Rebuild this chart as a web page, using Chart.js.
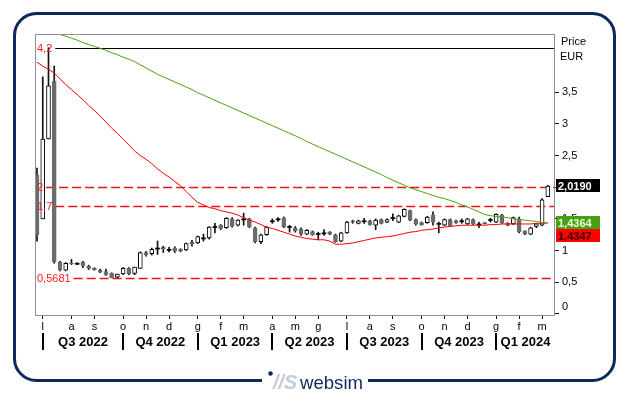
<!DOCTYPE html>
<html><head><meta charset="utf-8">
<script src="https://cdn.jsdelivr.net/npm/chart.js@4.4.0/dist/chart.umd.min.js"></script>
<style>html,body{margin:0;padding:0;background:#fff;}canvas{display:block;}</style>
</head><body>
<canvas id="c" width="629" height="395"></canvas>
<script>
// ---------- DATA ----------
const firstWeek = '2022-06-27';
const openP  = [2.19,1.50,2.76,3.67,0.82,0.69,0.80,0.80,0.82,0.75,
                0.72,0.69,0.67,0.64,0.58,0.63,0.72,0.64,0.72,0.97,
                0.95,1.04,1.03,1.02,1.04,1.02,1.01,1.11,1.12,1.20,
                1.20,1.38,1.40,1.36,1.50,1.40,1.50,1.50,1.36,1.14,
                1.25,1.47,1.50,1.51,1.38,1.36,1.34,1.26,1.30,1.27,
                1.28,1.29,1.25,1.15,1.28,1.47,1.43,1.47,1.47,1.40,
                1.49,1.45,1.52,1.45,1.54,1.63,1.49,1.44,1.44,1.56,
                1.43,1.40,1.49,1.47,1.47,1.42,1.49,1.42,1.44,1.49,
                1.45,1.56,1.43,1.42,1.50,1.31,1.26,1.38,1.40,1.85];
const highP  = [2.30,3.74,4.20,3.91,0.83,0.81,0.86,0.81,0.83,0.77,
                0.73,0.71,0.71,0.65,0.63,0.73,0.73,0.74,0.98,0.99,
                1.04,1.15,1.07,1.05,1.06,1.03,1.12,1.16,1.23,1.26,
                1.38,1.43,1.41,1.52,1.52,1.49,1.59,1.51,1.37,1.26,
                1.38,1.50,1.52,1.53,1.40,1.38,1.36,1.33,1.31,1.29,
                1.33,1.30,1.26,1.29,1.46,1.48,1.48,1.51,1.48,1.50,
                1.50,1.50,1.58,1.56,1.66,1.64,1.50,1.45,1.54,1.61,
                1.45,1.50,1.50,1.48,1.50,1.51,1.50,1.45,1.44,1.51,
                1.58,1.57,1.44,1.53,1.53,1.31,1.37,1.43,1.82,2.03];
const lowP   = [1.15,1.50,2.76,0.80,0.68,0.68,0.78,0.78,0.73,0.70,
                0.69,0.65,0.61,0.57,0.57,0.62,0.62,0.62,0.72,0.91,
                0.93,0.94,0.97,0.98,0.97,0.98,1.00,1.07,1.11,1.15,
                1.18,1.28,1.33,1.35,1.37,1.39,1.40,1.36,1.12,1.11,
                1.24,1.43,1.46,1.36,1.29,1.29,1.24,1.25,1.24,1.17,
                1.24,1.25,1.13,1.14,1.27,1.43,1.42,1.43,1.40,1.33,
                1.42,1.44,1.47,1.44,1.53,1.47,1.40,1.40,1.43,1.40,
                1.28,1.39,1.38,1.43,1.43,1.41,1.41,1.36,1.42,1.45,
                1.44,1.43,1.39,1.41,1.28,1.25,1.25,1.36,1.39,1.85];
const closeP = [1.25,2.76,3.60,0.82,0.70,0.80,0.79,0.80,0.76,0.72,
                0.70,0.66,0.62,0.57,0.63,0.72,0.63,0.74,0.97,0.93,
                1.02,1.04,1.04,1.02,0.99,0.99,1.11,1.12,1.22,1.20,
                1.37,1.38,1.35,1.51,1.38,1.48,1.50,1.37,1.14,1.25,
                1.37,1.47,1.50,1.37,1.38,1.31,1.26,1.32,1.25,1.27,
                1.28,1.26,1.14,1.28,1.45,1.45,1.47,1.47,1.41,1.48,
                1.43,1.49,1.52,1.55,1.65,1.48,1.42,1.41,1.53,1.45,
                1.43,1.49,1.39,1.44,1.47,1.50,1.42,1.42,1.42,1.49,
                1.57,1.44,1.40,1.52,1.30,1.26,1.36,1.42,1.80,2.019];
const maShort = [3.97,3.91,3.86,3.80,3.71,3.62,3.54,3.46,3.38,3.29,
                 3.21,3.12,3.03,2.93,2.85,2.76,2.67,2.57,2.50,2.44,
                 2.37,2.29,2.22,2.16,2.09,2.02,1.93,1.84,1.76,1.72,
                 1.68,1.66,1.63,1.61,1.59,1.56,1.52,1.48,1.45,1.41,
                 1.37,1.35,1.32,1.29,1.26,1.23,1.21,1.19,1.18,1.17,
                 1.17,1.15,1.10,1.10,1.11,1.12,1.14,1.16,1.18,1.20,
                 1.21,1.22,1.23,1.25,1.27,1.29,1.30,1.32,1.33,1.34,
                 1.36,1.37,1.38,1.39,1.40,1.40,1.40,1.40,1.40,1.41,
                 1.41,1.42,1.42,1.42,1.42,1.42,1.42,1.43,1.43,1.4347];
const maLong  = [4.55,4.52,4.49,4.45,4.41,4.38,4.35,4.32,4.28,4.25,
                 4.22,4.19,4.16,4.12,4.09,4.05,4.02,3.98,3.93,3.88,
                 3.83,3.78,3.74,3.70,3.66,3.62,3.58,3.54,3.49,3.45,
                 3.41,3.37,3.33,3.29,3.25,3.21,3.17,3.13,3.09,3.05,
                 3.01,2.97,2.93,2.89,2.85,2.81,2.77,2.72,2.68,2.64,
                 2.60,2.56,2.52,2.48,2.44,2.40,2.36,2.32,2.28,2.24,
                 2.20,2.15,2.11,2.07,2.03,1.99,1.96,1.93,1.90,1.87,
                 1.84,1.82,1.79,1.76,1.72,1.69,1.65,1.61,1.57,1.55,
                 1.54,1.53,1.52,1.50,1.49,1.48,1.47,1.46,1.44,1.4364];
const monthTickIndex = [1,6,10,15,19,23,28,32,36,41,45,49,54,58,62,67,71,75,80,84,88];
const monthLetters   = ['l','a','s','o','n','d','g','f','m','a','m','g','l','a','s','o','n','d','g','f','m'];
const quarterStartIndex = [1,15,28,41,54,67,80];
const quarterLabels = ['Q3 2022','Q4 2022','Q1 2023','Q2 2023','Q3 2023','Q4 2023','Q1 2024'];
const yTickValues = [0,0.5,1,1.5,2,2.5,3,3.5];
const levelValues = [4.2, 2, 1.7, 0.5681];
const levelLabels = ['4,2','2','1,7','0,5681'];
const lastPriceLabel = '2,0190';
const maLongLabel = '1,4364';
const maShortLabel = '1,4347';

// categories (weekly)
const weeks = [];
{ const d0 = new Date(firstWeek + 'T00:00:00Z');
  for (let i = 0; i < closeP.length; i++) { const d = new Date(d0.getTime() + i*7*864e5); weeks.push(d.toISOString().slice(0,10)); } }

const FONT = "'Liberation Sans', Arial, sans-serif";
Chart.defaults.font.family = FONT;
Chart.defaults.font.size = 11;
Chart.defaults.color = '#000';

const GRAY = '#6b6b6b';
const isCross = i => Math.abs(openP[i]-closeP[i]) <= 0.01;
const isUp = i => closeP[i] > openP[i];

const wickData = weeks.map((w,i)=>({x:i, y:[lowP[i], highP[i]]}));
const bodyData = weeks.map((w,i)=>({x:i, y:[Math.min(openP[i],closeP[i]), Math.max(openP[i],closeP[i])]}));

function fitFont(ctx, text, width, style) {
  ctx.font = style + "20px " + FONT;
  const w = ctx.measureText(text).width;
  return style + (20 * width / w).toFixed(1) + "px " + FONT;
}

const decoPlugin = {
  id:'deco',
  beforeDraw(chart){
    const ctx = chart.ctx;
    ctx.save();
    ctx.fillStyle = '#fff'; ctx.fillRect(0,0,chart.width,chart.height);
    // frame
    const x0=14.5,y0=13.5,x1=614.5,y1=380.5,r=22;
    ctx.strokeStyle = '#0e2a5a'; ctx.lineWidth = 3;
    ctx.beginPath();
    ctx.moveTo(x0+r,y0); ctx.lineTo(x1-r,y0); ctx.arcTo(x1,y0,x1,y0+r,r);
    ctx.lineTo(x1,y1-r); ctx.arcTo(x1,y1,x1-r,y1,r);
    ctx.lineTo(x0+r,y1); ctx.arcTo(x0,y1,x0,y1-r,r);
    ctx.lineTo(x0,y0+r); ctx.arcTo(x0,y0,x0+r,y0,r);
    ctx.closePath(); ctx.stroke();
    // logo gap
    ctx.fillStyle = '#fff'; ctx.fillRect(262,374,106,14);
    ctx.fillStyle = '#0e2a5a';
    ctx.beginPath(); ctx.arc(270.5,373.5,2.3,0,Math.PI*2); ctx.fill();
    ctx.textBaseline='alphabetic'; ctx.textAlign='left';
    ctx.fillStyle = '#c3ccd8';
    ctx.font = fitFont(ctx, '//S', 24, 'italic bold ');
    ctx.fillText('//S', 273, 389);
    ctx.fillStyle = '#0e2a5a';
    ctx.font = fitFont(ctx, 'websim', 63, '');
    ctx.fillText('websim', 300, 389);
    ctx.restore();
  },
  beforeDatasetsDraw(chart){
    const ctx = chart.ctx, y = chart.scales.y, a = chart.chartArea;
    ctx.save();
    ctx.font = "11px " + FONT;
    levelValues.forEach((v,k)=>{
      const py = Math.round(y.getPixelForValue(v)) + 0.5;
      const sx = a.left + 2 + ctx.measureText(levelLabels[k]).width + 3;
      ctx.beginPath(); ctx.moveTo(sx, py); ctx.lineTo(a.right, py);
      if (k === 0) { ctx.setLineDash([]); ctx.strokeStyle='#000'; ctx.lineWidth=1; }
      else { ctx.setLineDash([9,4]); ctx.strokeStyle='#ee1111'; ctx.lineWidth=1.4; }
      ctx.stroke();
    });
    ctx.restore();
  },
  afterDatasetsDraw(chart){
    const ctx = chart.ctx, y = chart.scales.y, a = chart.chartArea;
    ctx.save();
    ctx.font = "11px " + FONT; ctx.textBaseline='middle'; ctx.textAlign='left';
    ctx.fillStyle = '#ff1a1a';
    levelValues.forEach((v,k)=>{
      const py = Math.round(y.getPixelForValue(v)) + 0.5;
      ctx.fillText(levelLabels[k], a.left+2, py);
    });
    ctx.restore();
  },
  afterDraw(chart){
    const ctx = chart.ctx, x = chart.scales.x, y = chart.scales.y, a = chart.chartArea;
    ctx.save();
    // plot frame
    ctx.strokeStyle = '#8e8e9c'; ctx.lineWidth = 1;
    ctx.strokeRect(a.left+0.5, a.top+0.5, a.right-a.left-1, a.bottom-a.top);
    // quarter separators and labels
    ctx.fillStyle = '#000'; ctx.strokeStyle = '#000'; ctx.lineWidth = 2;
    ctx.font = "bold 13px " + FONT; ctx.textAlign='center'; ctx.textBaseline='middle';
    quarterStartIndex.forEach((qi,k)=>{
      const px = Math.round(x.getPixelForValue(qi));
      ctx.beginPath(); ctx.moveTo(px, 333); ctx.lineTo(px, 350); ctx.stroke();
      const nx = k < quarterStartIndex.length-1 ? x.getPixelForValue(quarterStartIndex[k+1]) : a.right;
      ctx.fillText(quarterLabels[k], (px+nx)/2, 342);
    });
    // axis title
    ctx.font = "11px " + FONT; ctx.textAlign='left';
    ctx.fillText('Price', 561, 42);
    ctx.fillText('EUR', 560, 57);
    // value boxes
    const bx = 556, bw = 44, bh = 13;
    const box = (cy, bg, fg, txt) => {
      ctx.fillStyle = bg; ctx.fillRect(bx, Math.round(cy - bh/2), bw, bh);
      ctx.fillStyle = fg; ctx.font = "bold 11px " + FONT; ctx.textAlign='left'; ctx.textBaseline='middle';
      ctx.fillText(txt, bx+2, Math.round(cy)+0.5);
    };
    const yLast = y.getPixelForValue(closeP[closeP.length-1]);
    const yG = y.getPixelForValue(maLong[maLong.length-1]);
    box(yLast, '#000', '#fff', lastPriceLabel);
    box(yG, '#47a010', '#eefde0', maLongLabel);
    box(yG + bh, '#ff0000', '#3a0000', maShortLabel);
    ctx.restore();
  }
};

new Chart(document.getElementById('c'), {
  type: 'bar',
  data: {
    labels: weeks,
    datasets: [
      { type:'line', label:'MA long', data: weeks.map((w,i)=>({x:i,y:maLong[i]})), borderColor:'#4a9f12', borderWidth:1, pointRadius:0, tension:0, fill:false, order:0 },
      { type:'line', label:'MA short', data: weeks.map((w,i)=>({x:i,y:maShort[i]})), borderColor:'#ff0000', borderWidth:1, pointRadius:0, tension:0, fill:false, order:1 },
      { label:'body', data: bodyData, grouped:false, barThickness:4, minBarLength:1, borderSkipped:false,
        backgroundColor: weeks.map((w,i)=> isCross(i) ? '#000' : (isUp(i) ? '#fff' : GRAY)),
        borderColor: weeks.map((w,i)=> isCross(i) ? '#000' : (isUp(i) ? '#000' : GRAY)),
        borderWidth: weeks.map((w,i)=> isCross(i) ? 0 : 1), order:2 },
      { label:'wick', data: wickData, grouped:false, barThickness:1, borderWidth:0,
        backgroundColor: '#111', order:3 }
    ]
  },
  options: {
    responsive:false, animation:false, devicePixelRatio:1,
    layout:{ padding:{ left:35, top:34, right:0, bottom:0 } },
    plugins:{ legend:{display:false}, tooltip:{enabled:false} },
    scales:{
      x:{ type:'linear', offset:false, min:-0.35, max:90.25,
          afterFit(s){ s.height = 80; },
          afterBuildTicks(s){ s.ticks = monthTickIndex.map(v=>({value:v})); },
          border:{display:false},
          grid:{ display:true, drawOnChartArea:false, drawTicks:true, tickLength:4, color:'#000', tickColor:'#000', offset:false },
          ticks:{ autoSkip:false, maxRotation:0, padding:1, color:'#000', font:{size:11},
                  callback:(v,i)=> monthLetters[i] } },
      y:{ position:'right', min:-0.016, max:4.416,
          afterFit(s){ s.width = 74; },
          afterBuildTicks(s){ s.ticks = yTickValues.map(v=>({value:v})); },
          border:{display:false},
          grid:{ display:true, drawOnChartArea:false, drawTicks:true, tickLength:4, color:'#000', tickColor:'#000' },
          ticks:{ padding:3, color:'#000', font:{size:11},
                  callback:v=> v===0 ? ['0',''] : String(v).replace('.',',') } }
    }
  },
  plugins:[decoPlugin]
});
</script>
</body></html>
